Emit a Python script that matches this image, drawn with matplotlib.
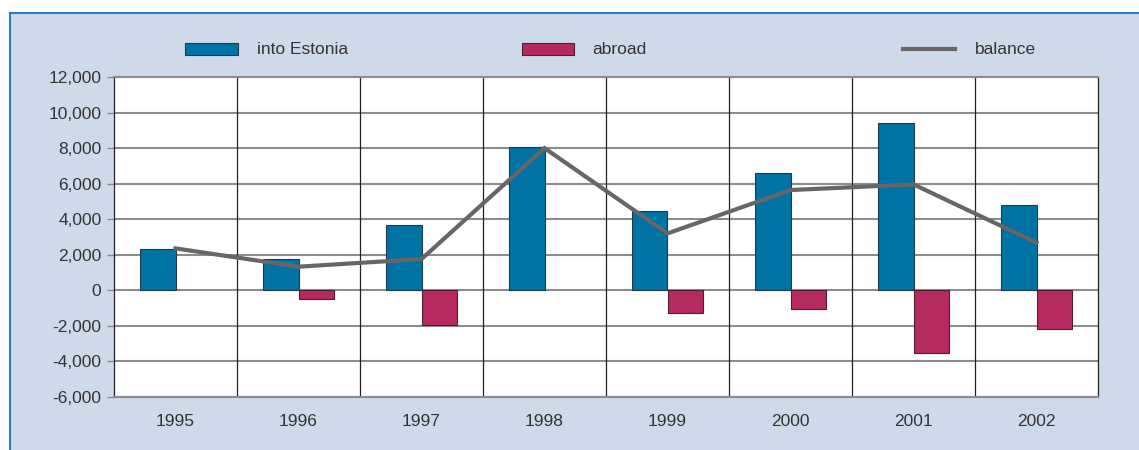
import numpy as np
import matplotlib.pyplot as plt
from matplotlib.patches import Rectangle
from matplotlib.lines import Line2D

plt.rcParams['font.family'] = ['Liberation Sans', 'DejaVu Sans']

# Data
years = ['1995', '1996', '1997', '1998', '1999', '2000', '2001', '2002']
into_estonia = [2320, 1760, 3670, 8060, 4470, 6610, 9430, 4810]
abroad = [0, -490, -1950, 0, -1300, -1070, -3550, -2200]
balance = [2360, 1330, 1760, 8000, 3200, 5640, 5960, 2680]

blue = '#0072A3'
red = '#B72A60'
grey_line = '#666666'
panel = '#CEDAEA'
txt = '#333333'
fs = 12.5

fig = plt.figure(figsize=(11.39, 4.5), dpi=100)
W, H = 1139, 450

# background panel with blue top/left border
fig.patches.append(Rectangle((10 / W, 0), 1 - 10 / W, 1 - 13 / H, transform=fig.transFigure,
                             facecolor=panel, edgecolor='none', zorder=-10))
fig.add_artist(Line2D([10 / W, 1], [1 - 13 / H, 1 - 13 / H], color='#2F7DB8', lw=1.5, zorder=-5))
fig.add_artist(Line2D([10 / W, 10 / W], [0, 1 - 13 / H], color='#2F7DB8', lw=1.5, zorder=-5))

ax = fig.add_axes([114 / W, 1 - 397 / H, (1098 - 114) / W, (397 - 77) / H])
ax.set_facecolor('white')

x = np.arange(len(years))
w = 0.29
ab = np.array(abroad)
has_ab = ab != 0  # no outflow bar drawn for empty years
ax.bar(x - w / 2, into_estonia, width=w, color=blue, edgecolor='#1F3A4A', linewidth=0.8, zorder=3)
ax.bar(x[has_ab] + w / 2, ab[has_ab], width=w, color=red, edgecolor='#4A1F30', linewidth=0.8, zorder=3)
ax.plot(x, balance, color=grey_line, lw=3, zorder=4, solid_joinstyle='miter')

ax.set_xlim(-0.5, len(years) - 0.5)
ax.set_ylim(-6000, 12000)
ax.set_yticks(np.arange(-6000, 12001, 2000))
ax.set_yticklabels([f'{v:,}' for v in range(-6000, 12001, 2000)])
ax.set_xticks(x)
ax.set_xticklabels(years)
ax.tick_params(axis='x', length=0, pad=12, labelsize=fs, colors=txt)
ax.tick_params(axis='y', length=5, width=1, color='#888888', pad=4, labelsize=fs, labelcolor=txt)

# grid lines
ax.yaxis.grid(True, color='#8C8C8C', lw=1.5, zorder=1)
for b in np.arange(0.5, len(years) - 0.5, 1):
    ax.axvline(b, color='#222222', lw=0.9, zorder=1)
ax.set_axisbelow(True)

for s in ['top', 'bottom']:
    ax.spines[s].set_color('#8C8C8C')
    ax.spines[s].set_linewidth(1.5)
ax.spines['left'].set_color('#222222')
ax.spines['right'].set_color('#222222')
ax.spines['left'].set_linewidth(0.9)
ax.spines['right'].set_linewidth(0.9)

# legend drawn along the top
ly = 1 - 49 / H
fig.patches.append(Rectangle((185 / W, 1 - 55 / H), 53 / W, 12 / H, transform=fig.transFigure,
                             facecolor=blue, edgecolor='#1F3A4A', lw=0.8))
fig.text(257 / W, ly, 'into Estonia', fontsize=fs, color=txt, va='center')
fig.patches.append(Rectangle((522 / W, 1 - 55 / H), 52 / W, 12 / H, transform=fig.transFigure,
                             facecolor=red, edgecolor='#4A1F30', lw=0.8))
fig.text(592 / W, ly, 'abroad', fontsize=fs, color=txt, va='center')
fig.add_artist(Line2D([903 / W, 955 / W], [ly, ly], color=grey_line, lw=3))
fig.text(975 / W, ly, 'balance', fontsize=fs, color=txt, va='center')

fig.savefig('out.png', dpi=100)
